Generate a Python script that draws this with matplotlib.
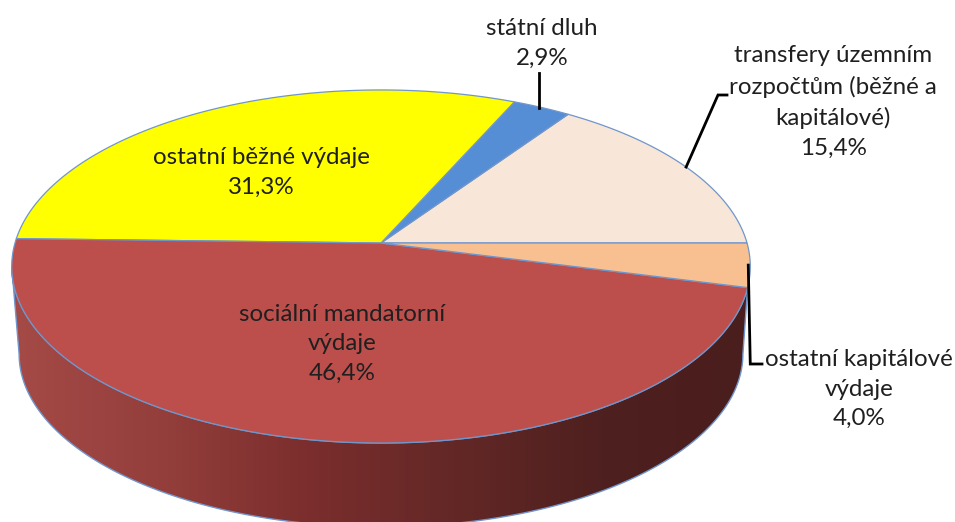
import numpy as np
import matplotlib
matplotlib.use("Agg")
import matplotlib.pyplot as plt
from matplotlib.colors import LinearSegmentedColormap
from matplotlib.patches import Polygon

# --- data (counter-clockwise from the 3 o'clock direction) ---
categories = ["transfery územním\nrozpočtům (běžné a\nkapitálové)", "státní dluh",
              "ostatní běžné výdaje", "sociální mandatorní\nvýdaje", "ostatní kapitálové\nvýdaje"]
values = [15.4, 2.9, 31.3, 46.4, 4.0]
colors = ["#F8E6D8", "#558ED5", "#FFFF00", "#BC4F4C", "#F8C091"]

# --- projection of the tilted disc (pixel layout) ---
CX, CY, BX, AY, K = 381, 243, 366, 173.4, 0.133
DEPTH, BOTTOM_SCALE = 88, 0.98
EDGE = "#7096CC"


def project(theta_deg, scale=1.0, dy=0.0):
    t = np.radians(theta_deg)
    den = 1 + K * np.sin(t)
    return (CX + scale * BX * np.cos(t) / den,
            CY + dy + scale * AY * np.sin(-t) / den)


fig = plt.figure(figsize=(9.55, 5.22), dpi=100, facecolor="white")
ax = fig.add_axes([0, 0, 1, 1])
ax.set_xlim(0, 955)
ax.set_ylim(522, 0)
ax.axis("off")

edges = np.concatenate([[0], np.cumsum(values) * 3.6])
tangent = np.degrees(np.arcsin(K))

# side wall
top_t = np.linspace(180 + tangent, edges[4], 200)
bot_t = np.linspace(360 - tangent, 180 + tangent, 200)
xt, yt = project(top_t)
xb, yb = project(bot_t, BOTTOM_SCALE, DEPTH)
wall = Polygon(np.column_stack([np.r_[xt, xb], np.r_[yt, yb]]), closed=True,
               facecolor="none", edgecolor=EDGE, lw=1.0, zorder=2)
ax.add_patch(wall)
cmap = LinearSegmentedColormap.from_list("wall", [
    (0.0, "#A54A47"), (0.2, "#943F3C"), (0.4, "#7B2E2D"),
    (0.6, "#632826"), (0.8, "#4E201F"), (1.0, "#4A1E1D")])
im = ax.imshow(np.linspace(0, 1, 256)[None, :], cmap=cmap, extent=[10, 750, 522, 250],
               aspect="auto", zorder=1)
im.set_clip_path(wall)
ax.set_xlim(0, 955)
ax.set_ylim(522, 0)

# top surface
for i, c in enumerate(colors):
    t = np.linspace(edges[i], edges[i + 1], 200)
    x, y = project(t)
    ax.add_patch(Polygon(np.column_stack([np.r_[CX, x], np.r_[CY, y]]), closed=True,
                         facecolor=c, edgecolor=EDGE, lw=0.9, zorder=3))

# leader lines start at each slice's mid-angle on the rim
mids = (edges[:-1] + edges[1:]) / 2
x0, y0 = project(mids[0])
ax.plot([x0, 718, 727], [y0, 95, 95], color="black", lw=2, zorder=4, solid_joinstyle="miter")
x1, y1 = project(mids[1])
ax.plot([x1 - 3, x1 - 3], [y1, 73], color="black", lw=2, zorder=4)
x4, y4 = project(mids[4])
ax.plot([x4 - 2, x4, 762], [y4, 364, 364], color="black", lw=2, zorder=4, solid_joinstyle="miter")

# labels
font = dict(family="Lato", fontsize=17.4, color="#1F1F1F", ha="center", va="center",
            linespacing=1.52, zorder=5)
fmt = lambda v: f"{v:.1f}".replace(".", ",") + "%"
label_xy = [(833, 102), (542, 43), (261, 172), (342, 344), (859, 389)]
for name, v, (lx, ly) in zip(categories, values, label_xy):
    ax.text(lx, ly, f"{name}\n{fmt(v)}", **font)

fig.savefig("out.png", dpi=100, facecolor="white")
